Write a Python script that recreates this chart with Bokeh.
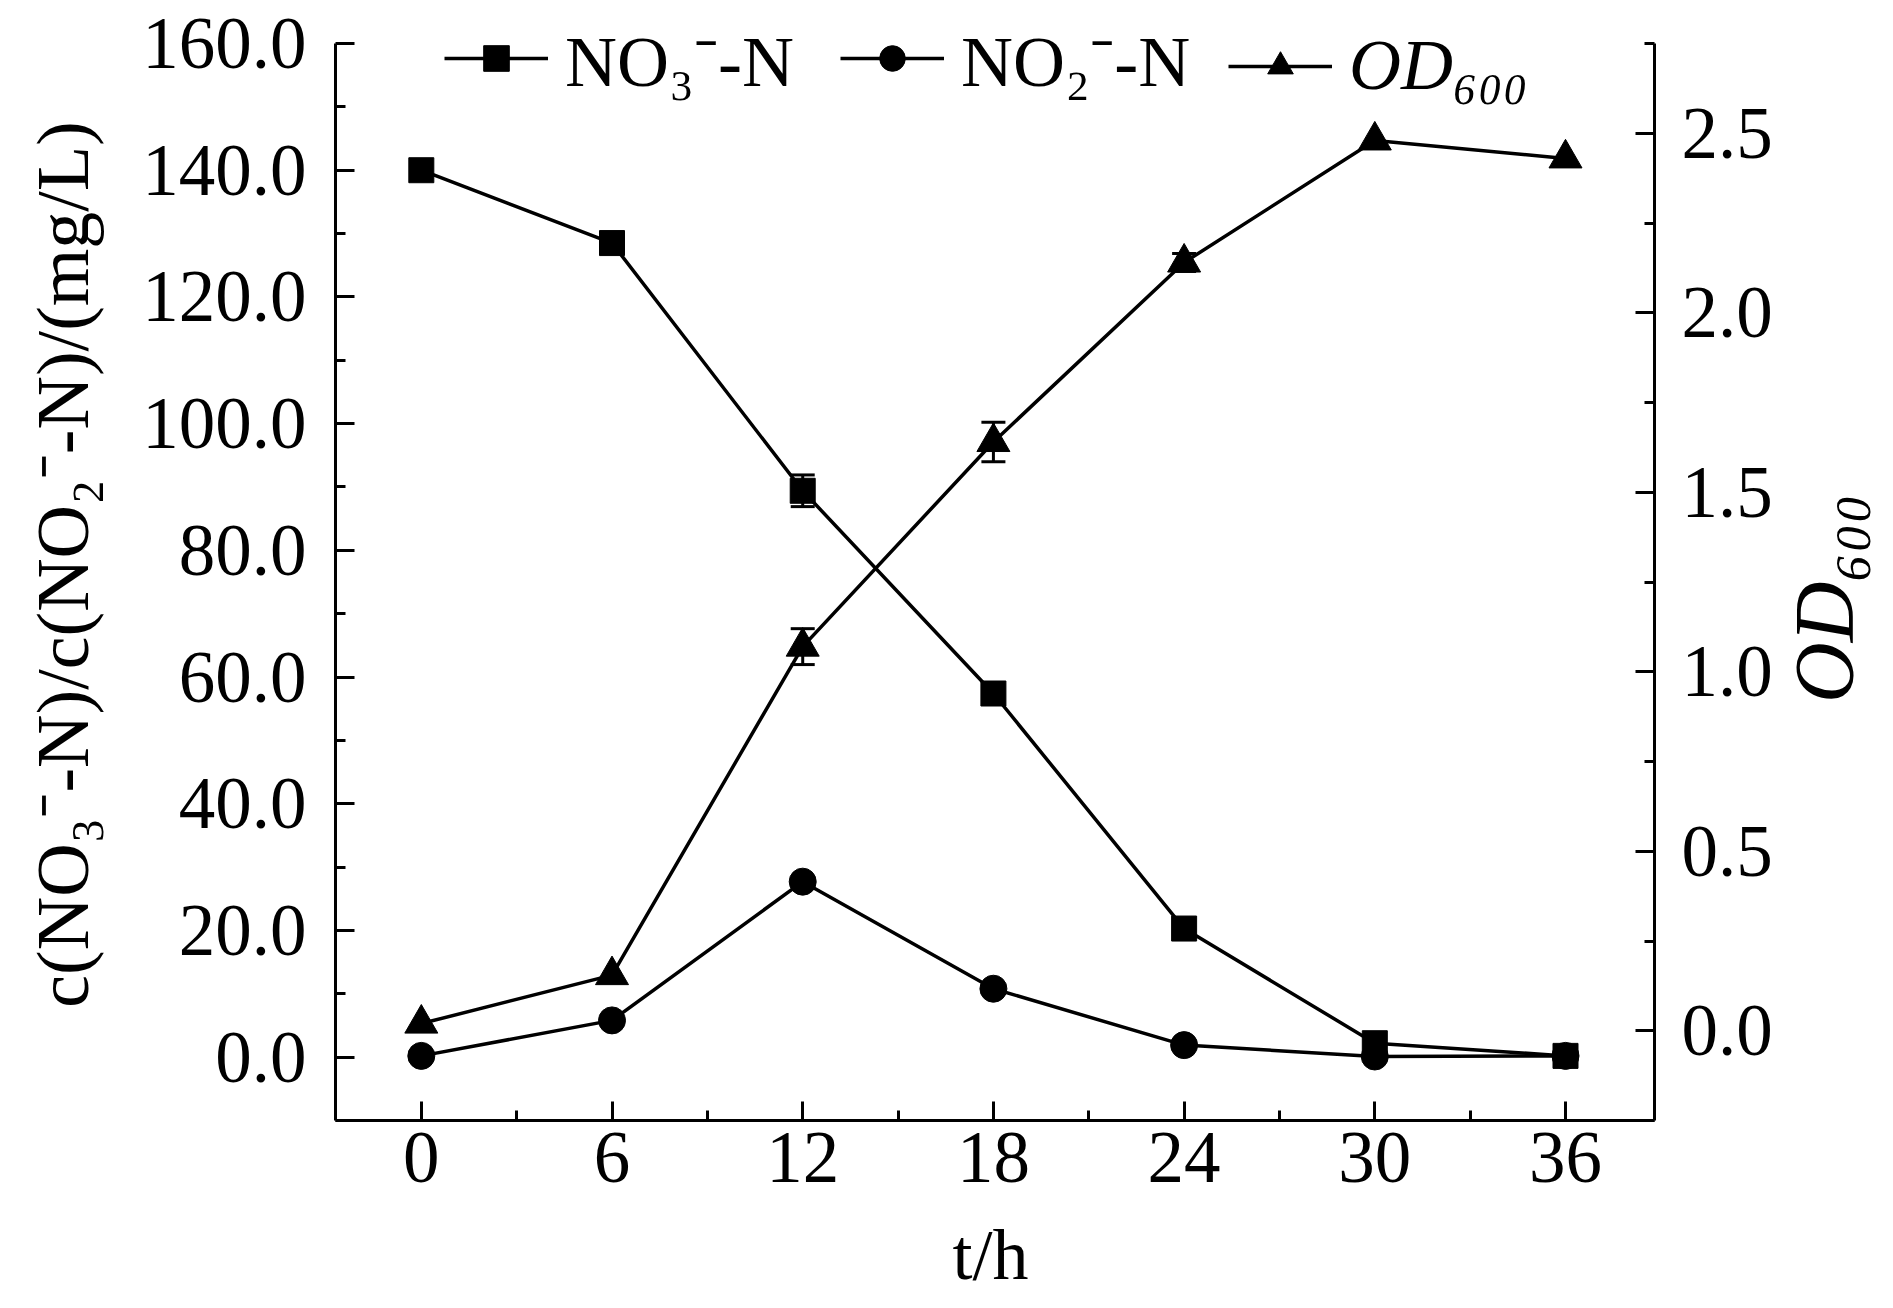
import math
from bokeh.plotting import figure
from bokeh.layouts import row, column
from bokeh.models import (Range1d, LinearAxis, Whisker, ColumnDataSource, Legend, LegendItem,
                          Label, FixedTicker, TeeHead, PrintfTickFormatter)
from bokeh.embed import file_html
from bokeh.resources import INLINE

# ---------------- data ----------------
time_h = [0, 6, 12, 18, 24, 30, 36]
no3_n = [140.0, 128.5, 89.4, 57.4, 20.3, 2.2, 0.2]
no3_err = [0.0, 0.0, 2.5, 0.0, 0.0, 0.0, 0.0]
no2_n = [0.2, 5.8, 27.7, 10.8, 1.9, 0.1, 0.2]
od600 = [0.02, 0.155, 1.07, 1.64, 2.14, 2.48, 2.43]
od_err = [0.0, 0.0, 0.05, 0.055, 0.025, 0.0, 0.0]

x_ticks = [0, 6, 12, 18, 24, 30, 36]
x_minor = [3, 9, 15, 21, 27, 33]
left_ticks = [0, 20, 40, 60, 80, 100, 120, 140, 160]
left_minor = [-10, 10, 30, 50, 70, 90, 110, 130, 150]
right_ticks = [0.0, 0.5, 1.0, 1.5, 2.0, 2.5]
right_minor = [-0.25, 0.25, 0.75, 1.25, 1.75, 2.25, 2.75]

FONT = "Liberation Serif"
TICK_FS = "73px"
MAIN_H = 1213
LEFT_W = 125
RIGHT_W = 118
MAIN_W = 1893 - LEFT_W - RIGHT_W

# ---------------- main plot ----------------
# frame spans the full height above the x axis; the axis lines stop at their bounds
p = figure(width=MAIN_W, height=MAIN_H, output_backend="svg", toolbar_location=None,
           x_range=Range1d(-2.7, 38.8), y_range=Range1d(-10, 166.79),
           min_border_left=210, min_border_right=MAIN_W - (1655 - LEFT_W),
           min_border_top=0, min_border_bottom=93)
p.extra_y_ranges = {"od": Range1d(-0.25, 2.8698)}
p.grid.visible = False
p.outline_line_color = None
p.background_fill_color = "white"
p.border_fill_color = "white"

def style_axis(ax):
    ax.axis_line_width = 3
    ax.axis_line_color = "black"
    ax.major_tick_line_width = 3
    ax.minor_tick_line_width = 3
    ax.major_tick_in = 19
    ax.major_tick_out = 0
    ax.minor_tick_in = 10
    ax.minor_tick_out = 0
    ax.major_label_text_font = FONT
    ax.major_label_text_font_size = TICK_FS
    ax.major_label_text_color = "black"

xa = p.xaxis[0]
style_axis(xa)
xa.ticker = FixedTicker(ticks=x_ticks, minor_ticks=x_minor)
xa.major_label_standoff = 12

ya = p.yaxis[0]
style_axis(ya)
ya.bounds = (-10, 160)
ya.ticker = FixedTicker(ticks=left_ticks, minor_ticks=left_minor)
ya.formatter = PrintfTickFormatter(format="%.1f")
ya.major_label_standoff = 29

ra = LinearAxis(y_range_name="od")
style_axis(ra)
ra.bounds = (-0.25, 2.75)
ra.ticker = FixedTicker(ticks=right_ticks, minor_ticks=right_minor)
ra.formatter = PrintfTickFormatter(format="%.1f")
ra.major_label_standoff = 27
p.add_layout(ra, "right")

LW = 3.5
src = ColumnDataSource(dict(t=time_h, no3=no3_n, no2=no2_n, od=od600))

l1 = p.line("t", "no3", source=src, line_color="black", line_width=LW)
s1 = p.scatter("t", "no3", source=src, marker="square", size=25, fill_color="black", line_color="black")
l2 = p.line("t", "no2", source=src, line_color="black", line_width=LW)
s2 = p.scatter("t", "no2", source=src, marker="circle", size=27, fill_color="black", line_color="black")
l3 = p.line("t", "od", source=src, line_color="black", line_width=LW, y_range_name="od")
s3 = p.scatter("t", "od", source=src, marker="triangle", size=33, fill_color="black", line_color="black",
               y_range_name="od")

def err_source(vals, errs):
    idx = [i for i, e in enumerate(errs) if e > 0]
    return ColumnDataSource(dict(x=[time_h[i] for i in idx],
                                 lower=[vals[i] - errs[i] for i in idx],
                                 upper=[vals[i] + errs[i] for i in idx]))

for vals, errs, rng in [(no3_n, no3_err, "default"), (od600, od_err, "od")]:
    w = Whisker(base="x", lower="lower", upper="upper", source=err_source(vals, errs),
                line_width=3, line_color="black",
                upper_head=TeeHead(size=24, line_width=3, line_color="black"),
                lower_head=TeeHead(size=24, line_width=3, line_color="black"),
                level="glyph")
    if rng == "od":
        w.y_range_name = "od"
    p.add_layout(w)

def make_legend(items, loc, style):
    lg = Legend(items=items, orientation="horizontal", location=loc, padding=0, margin=0,
                spacing=46, label_standoff=17, glyph_width=104, glyph_height=64,
                label_text_font=FONT, label_text_font_size="72px", label_text_font_style=style,
                label_text_color="black", border_line_color=None, background_fill_alpha=0)
    p.add_layout(lg)
    return lg

make_legend([LegendItem(label="NO₃⁻-N", renderers=[l1, s1]),
             LegendItem(label="NO₂⁻-N", renderers=[l2, s2])], (109, 1013), "normal")
make_legend([LegendItem(label="OD₆₀₀", renderers=[l3, s3])], (893, 1013), "italic")

# ---------------- axis-title strips (plain canvases holding the titles) ----------------
def strip(w, h):
    f = figure(width=w, height=h, output_backend="svg", toolbar_location=None,
               x_axis_location=None, y_axis_location=None, min_border=0,
               x_range=Range1d(0, 1), y_range=Range1d(0, 1))
    f.grid.visible = False
    f.outline_line_color = None
    f.background_fill_color = "white"
    f.border_fill_color = "white"
    return f

pl = strip(LEFT_W, MAIN_H)
pl.add_layout(Label(x=62, y=556, x_units="screen", y_units="screen",
                    text="c(NO₃⁻-N)/c(NO₂⁻-N)/(mg/L)", angle=math.pi / 2,
                    text_align="center", text_baseline="middle",
                    text_font=FONT, text_font_size="74px", text_color="black"))

pr = strip(RIGHT_W, MAIN_H)
pr.add_layout(Label(x=49, y=522, x_units="screen", y_units="screen",
                    text="OD₆₀₀", angle=math.pi / 2,
                    text_align="center", text_baseline="middle",
                    text_font=FONT, text_font_size="84px", text_font_style="italic",
                    text_color="black"))

pb = strip(1893, 1308 - MAIN_H)
pb.add_layout(Label(x=990, y=54, x_units="screen", y_units="screen", text="t/h",
                    text_align="center", text_baseline="middle",
                    text_font=FONT, text_font_size="72px", text_color="black"))

layout = column(row(pl, p, pr, spacing=0), pb, spacing=0)
open("out.html", "w").write(file_html(layout, INLINE))
